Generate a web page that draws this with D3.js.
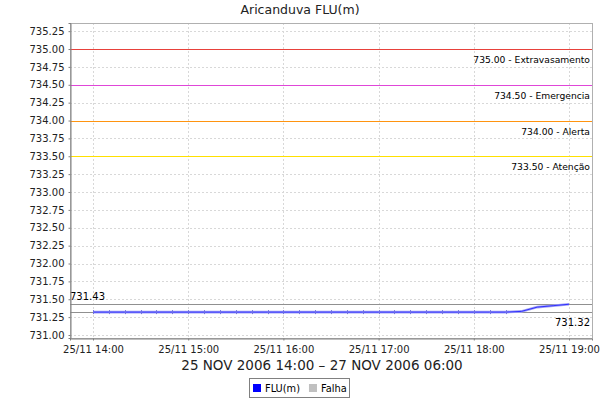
<!DOCTYPE html>
<html>
<head>
<meta charset="utf-8">
<script src="https://cdn.jsdelivr.net/npm/d3@7"></script>
<style>
  body { margin: 0; background: #fff; }
  svg { display: block; font-family: "DejaVu Sans", sans-serif; }
</style>
</head>
<body>
<svg id="chart" width="600" height="400"></svg>
<script>
const title = "Aricanduva FLU(m)";
const xAxisTitle = "25 NOV 2006 14:00 – 27 NOV 2006 06:00";
// FLU(m) readings every 10 minutes, 25/11 14:00 to 19:00
const times = [
  "14:00","14:10","14:20","14:30","14:40","14:50",
  "15:00","15:10","15:20","15:30","15:40","15:50",
  "16:00","16:10","16:20","16:30","16:40","16:50",
  "17:00","17:10","17:20","17:30","17:40","17:50",
  "18:00","18:10","18:20","18:30","18:40","18:50","19:00"
];
const levels = [
  731.32,731.32,731.32,731.32,731.32,731.32,
  731.32,731.32,731.32,731.32,731.32,731.32,
  731.32,731.32,731.32,731.32,731.32,731.32,
  731.32,731.32,731.32,731.32,731.32,731.32,
  731.32,731.32,731.32,731.33,731.39,731.41,731.43
];
const thresholdValues = [735.00, 734.50, 734.00, 733.50];
const thresholdNames = ["Extravasamento", "Emergencia", "Alerta", "Atenção"];
const thresholdColors = ["#e8413b", "#e046d8", "#ff9410", "#ffe000"];
const yTicks = [731.00,731.25,731.50,731.75,732.00,732.25,732.50,732.75,733.00,733.25,733.50,733.75,734.00,734.25,734.50,734.75,735.00,735.25];
const xTickTimes = ["14:00","15:00","16:00","17:00","18:00","19:00"];
const legendNames = ["FLU(m)", "Falha"];
const legendColors = ["#0000ff", "#c0c0c0"];

const parse = t => { const [h, m] = t.split(":").map(Number); return new Date(2006, 10, 25, h, m); };
const data = times.map((t, i) => ({ t: parse(t), v: levels[i] }));

const svg = d3.select("#chart");
const L = 70, R = 592, T = 23, B = 338;

const x = d3.scaleTime()
  .domain([new Date(2006, 10, 25, 13, 45, 30), new Date(2006, 10, 25, 19, 14, 30)])
  .range([L, R]);
const y = d3.scaleLinear().domain([730.958, 735.364]).range([B, T]);

// grid
const g = svg.append("g");
g.selectAll(".hg").data(yTicks).join("line")
  .attr("x1", L).attr("x2", R)
  .attr("y1", d => Math.round(y(d)) + 0.5).attr("y2", d => Math.round(y(d)) + 0.5)
  .attr("stroke", "#d8d8d8").attr("stroke-dasharray", "2,2");
g.selectAll(".vg").data(xTickTimes.map(parse)).join("line")
  .attr("y1", T).attr("y2", B)
  .attr("x1", d => Math.round(x(d)) + 0.5).attr("x2", d => Math.round(x(d)) + 0.5)
  .attr("stroke", "#d8d8d8").attr("stroke-dasharray", "2,2");

// plot outline
svg.append("rect").attr("x", L + 0.5).attr("y", T + 0.5)
  .attr("width", R - L).attr("height", B - T)
  .attr("fill", "none").attr("stroke", "#b0b0b0");

// thresholds
thresholdValues.forEach((v, i) => {
  const yy = Math.round(y(v)) + 0.5;
  svg.append("line").attr("x1", L).attr("x2", R).attr("y1", yy).attr("y2", yy)
    .attr("stroke", thresholdColors[i]).attr("stroke-width", 1.2);
  svg.append("text").attr("x", R - 2).attr("y", yy + 13)
    .attr("text-anchor", "end").attr("font-size", 9.2).attr("fill", "#000")
    .text(d3.format(".2f")(v) + " - " + thresholdNames[i]);
});

// min / max lines
const maxV = d3.max(levels), minV = d3.min(levels);
[maxV, minV].forEach(v => {
  const yy = Math.round(y(v)) + 0.5;
  svg.append("line").attr("x1", L).attr("x2", R).attr("y1", yy).attr("y2", yy)
    .attr("stroke", "#909090").attr("stroke-width", 1);
});
svg.append("text").attr("x", L).attr("y", Math.round(y(maxV)) - 4)
  .attr("font-size", 10).text(d3.format(".2f")(maxV));
svg.append("text").attr("x", R - 2).attr("y", Math.round(y(minV)) + 14)
  .attr("text-anchor", "end").attr("font-size", 10).text(d3.format(".2f")(minV));

// series
const line = d3.line().x(d => x(d.t)).y(d => y(d.v));
svg.append("path").datum(data).attr("d", line)
  .attr("fill", "none").attr("stroke", "#a0a0f4").attr("stroke-width", 2.6);
svg.append("path").datum(data).attr("d", line)
  .attr("fill", "none").attr("stroke", "#3030ff").attr("stroke-width", 1);
svg.selectAll(".mk").data(data.slice(0, 27)).join("line")
  .attr("x1", d => Math.round(x(d.t)) + 0.5).attr("x2", d => Math.round(x(d.t)) + 0.5)
  .attr("y1", d => y(d.v) - 2).attr("y2", d => y(d.v) + 2)
  .attr("stroke", "#7070e0").attr("stroke-width", 1);

// axes
const yAxis = svg.append("g").attr("transform", `translate(${L + 0.5},0)`)
  .call(d3.axisLeft(y).tickValues(yTicks).tickFormat(d3.format(".2f")).tickSize(2).tickPadding(4));
const xAxis = svg.append("g").attr("transform", `translate(0,${B + 0.5})`)
  .call(d3.axisBottom(x).tickValues(xTickTimes.map(parse)).tickFormat(d3.timeFormat("%d/%m %H:%M")).tickSize(2).tickPadding(5));
[yAxis, xAxis].forEach(a => {
  a.select(".domain").attr("stroke", "#808080").attr("stroke-width", 1);
  a.selectAll(".tick line").attr("stroke", "#808080");
  a.selectAll("text").attr("font-size", 10).attr("fill", "#222").attr("font-family", "DejaVu Sans");
});

// titles
svg.append("text").attr("x", 300).attr("y", 14).attr("text-anchor", "middle")
  .attr("font-size", 12.5).attr("fill", "#222").text(title);
svg.append("text").attr("x", 322).attr("y", 370).attr("text-anchor", "middle")
  .attr("font-size", 13.5).attr("fill", "#222").text(xAxisTitle);

// legend
const lg = svg.append("g");
lg.append("rect").attr("x", 249.5).attr("y", 378.5).attr("width", 100).attr("height", 19)
  .attr("fill", "#fff").attr("stroke", "#808080");
let lx = 253;
legendNames.forEach((n, i) => {
  lg.append("rect").attr("x", lx).attr("y", 384).attr("width", 8).attr("height", 8).attr("fill", legendColors[i]);
  const t = lg.append("text").attr("x", lx + 12).attr("y", 392).attr("font-size", 9.8).attr("fill", "#000").text(n);
  lx += 12 + t.node().getComputedTextLength() + 9;
});
</script>
</body>
</html>
